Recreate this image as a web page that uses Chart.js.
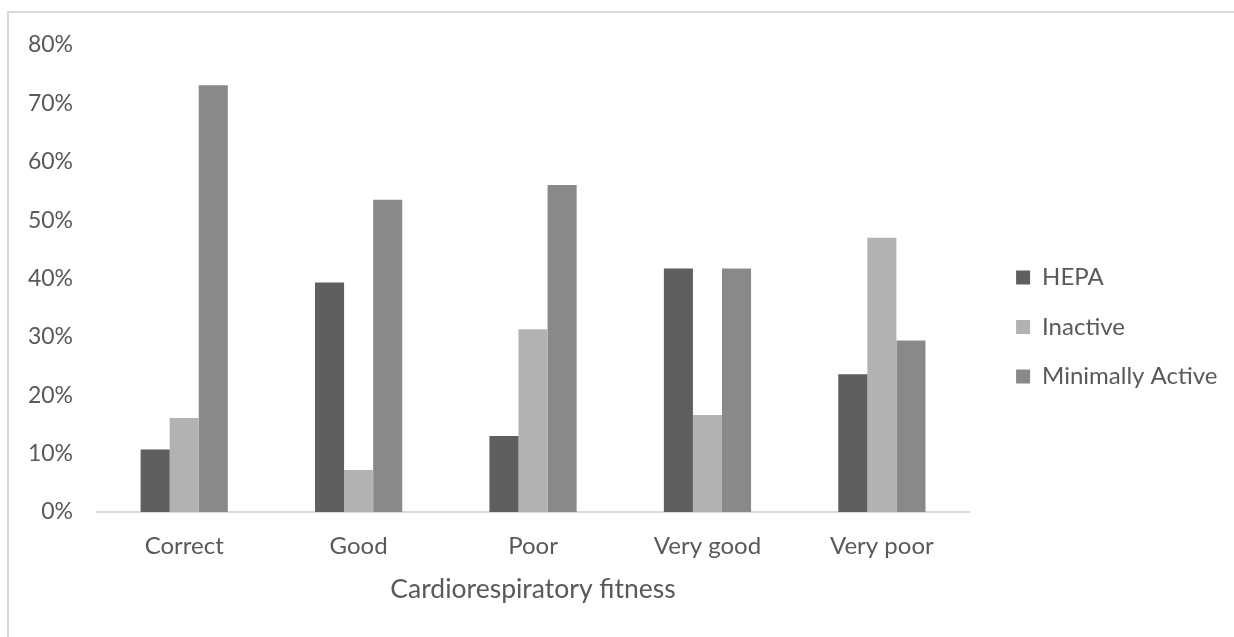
<!DOCTYPE html>
<html>
<head>
<meta charset="utf-8">
<title>Physical activity level by cardiorespiratory fitness</title>
<script src="https://cdn.jsdelivr.net/npm/chart.js@4.4.1/dist/chart.umd.min.js"></script>
<style>
  html, body { margin: 0; padding: 0; background: #ffffff; overflow: hidden; }
  #wrap { position: relative; width: 1234px; height: 637px; }
  #frame { position: absolute; left: 7px; top: 11px; width: 1300px; height: 700px;
           border-left: 2px solid #d9d9d9; border-top: 2px solid #d9d9d9; }
  #c { position: absolute; left: 0; top: 0; }
</style>
</head>
<body>
<div id="wrap">
  <div id="frame"></div>
  <canvas id="c" width="1234" height="637"></canvas>
</div>
<script>
// Fitness categories on the x axis
const categories = ['Correct', 'Good', 'Poor', 'Very good', 'Very poor'];

// Share of each physical-activity level within a fitness category (%)
const hepa            = [10.7, 39.3, 13.0, 41.7, 23.6];
const inactive        = [16.1,  7.2, 31.3, 16.6, 47.0];
const minimallyActive = [73.1, 53.5, 56.0, 41.7, 29.4];

// Value axis range and step (%)
const yMin = 0;
const yMax = 80;
const yStep = 10;

const TEXT = '#595959';
const FONT = 'Lato, "Open Sans", "Liberation Sans", sans-serif';

const chart = new Chart(document.getElementById('c'), {
  type: 'bar',
  data: {
    labels: categories,
    datasets: [
      { label: 'HEPA', data: hepa, backgroundColor: '#5f5f5f' },
      { label: 'Inactive', data: inactive, backgroundColor: '#b2b2b2' },
      { label: 'Minimally Active', data: minimallyActive, backgroundColor: '#898989' }
    ]
  },
  options: {
    responsive: false,
    animation: false,
    devicePixelRatio: 1,
    datasets: { bar: { categoryPercentage: 0.5, barPercentage: 1.0, borderWidth: 0 } },
    layout: { padding: { top: 45, bottom: 28, left: 0, right: 6.5 } },
    plugins: {
      tooltip: { enabled: false },
      legend: {
        position: 'right',
        align: 'center',
        maxWidth: 300,
        labels: {
          color: TEXT,
          font: { family: FONT, size: 24 },
          boxWidth: 14,
          boxHeight: 14,
          padding: 25.5
        }
      }
    },
    scales: {
      x: {
        grid: { display: false, drawTicks: false },
        border: { display: true, color: '#d9d9d9', width: 2 },
        ticks: { color: TEXT, font: { family: FONT, size: 24 }, padding: 20.3, maxRotation: 0 },
        title: {
          display: true,
          text: 'Cardiorespiratory fitness',
          color: TEXT,
          font: { family: FONT, size: 26.5 },
          padding: { top: 0, bottom: 4.1 }
        },
        afterFit: s => { s.height = 97; s.paddingLeft = 0; s.paddingRight = 0; }
      },
      y: {
        min: yMin,
        max: yMax,
        grid: { display: false, drawTicks: false },
        border: { display: false },
        ticks: {
          stepSize: yStep,
          color: TEXT,
          font: { family: FONT, size: 23 },
          padding: 24,
          callback: v => v + '%'
        },
        afterFit: s => { s.width = 97; s.paddingTop = 0; s.paddingBottom = 0; }
      },
      // empty gap between the plot and the legend
      gap: {
        type: 'linear',
        position: 'right',
        display: true,
        grid: { display: false, drawTicks: false },
        border: { display: false },
        ticks: { display: false },
        afterFit: s => { s.width = 21.5; s.paddingTop = 0; s.paddingBottom = 0; }
      }
    }
  }
});
</script>
</body>
</html>
